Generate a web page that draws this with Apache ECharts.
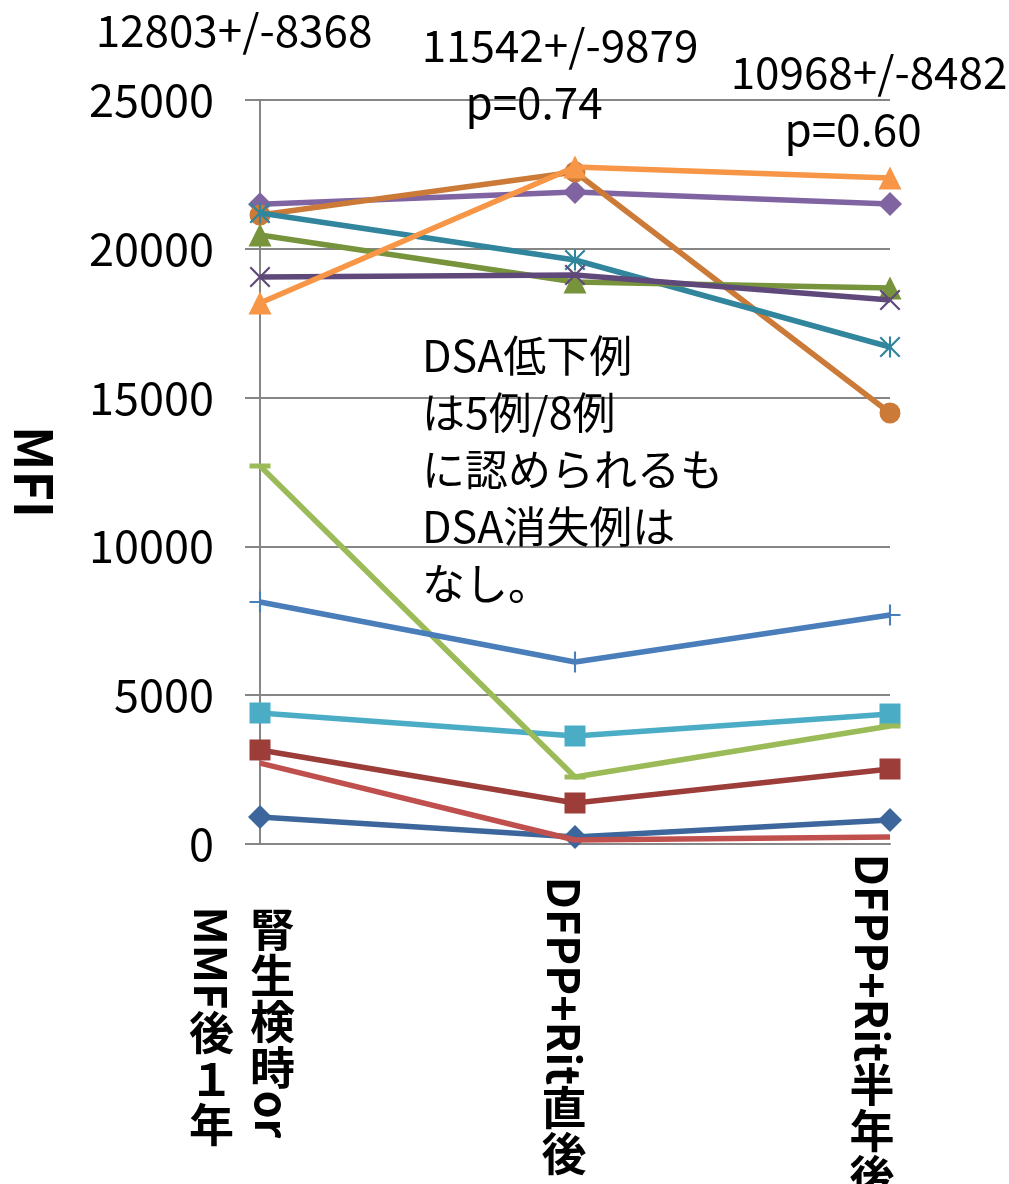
<!DOCTYPE html>
<html><head><meta charset="utf-8">
<script src="https://cdn.jsdelivr.net/npm/echarts@6/dist/echarts.min.js"></script>
<style>html,body{margin:0;padding:0;background:#fff}#c{width:1009px;height:1184px}</style>
</head><body><div id="c"></div>
<script>
// ---- data ----
const categories = ['腎生検時or\nMMF後１年', 'DFPP+Rit直後', 'DFPP+Rit半年後'];
const yTicks = [0, 5000, 10000, 15000, 20000, 25000];
const yName = 'MFI';
const s1 = [907, 235, 806];
const s2 = [3159, 1378, 2520];
const s3 = [2720, 134, 235];
const s4 = [4402, 3629, 4368];
const s5 = [12702, 2251, 3965];
const s6 = [8132, 6116, 7695];
const s7 = [21500, 21909, 21505];
const s8 = [21135, 22580, 14483];
const s9 = [21200, 19624, 16700];
const s10 = [20464, 18884, 18683];
const s11 = [19052, 19120, 18280];
const s12 = [18179, 22750, 22380];
const statMeans = ['12803+/-8368', '11542+/-9879', '10968+/-8482'];
const statP = ['', 'p=0.74', 'p=0.60'];
const noteText = 'DSA低下例\nは5例/8例\nに認められるも\nDSA消失例は\nなし。';

// ---- styles ----
const FONT = '"Noto Sans CJK JP", "Noto Sans", sans-serif';
const GRAY = '#868686';
const P_X = 'path://M1.5,0L10,8.5L18.5,0L20,1.5L11.5,10L20,18.5L18.5,20L10,11.5L1.5,20L0,18.5L8.5,10L0,1.5Z';
const P_STAR = 'path://M1.5,0L10,8.5L18.5,0L20,1.5L11.5,10L20,18.5L18.5,20L10,11.5L1.5,20L0,18.5L8.5,10L0,1.5Z M9,0L11,0L11,20L9,20Z';
const P_PLUS = 'path://M9,0L11,0L11,9L20,9L20,11L11,11L11,20L9,20L9,11L0,11L0,9L9,9Z';

const seriesDefs = [
  {data: s1, color: '#3D679C', symbol: 'diamond', size: 24},
  {data: s2, color: '#9C3D3A', symbol: 'rect', size: 21},
  {data: s3, color: '#C0504D', symbol: 'none', size: 0},
  {data: s4, color: '#4BACC6', symbol: 'rect', size: 21},
  {data: s5, color: '#9BBB59', symbol: 'rect', size: [21, 5]},
  {data: s6, color: '#4A7EBB', symbol: P_PLUS, size: 21},
  {data: s7, color: '#8064A2', symbol: 'diamond', size: 24},
  {data: s8, color: '#CC7A38', symbol: 'circle', size: 21},
  {data: s9, color: '#31859C', symbol: P_STAR, size: 21},
  {data: s10, color: '#77933C', symbol: 'triangle', size: 23},
  {data: s11, color: '#5F497A', symbol: P_X, size: 21},
  {data: s12, color: '#F79646', symbol: 'triangle', size: 23}
];

const chart = echarts.init(document.getElementById('c'), null, {renderer: 'canvas'});
const option = {
  animation: false,
  backgroundColor: '#fff',
  grid: {left: 254, right: 119, top: 100, bottom: 340, containLabel: false},
  xAxis: {
    type: 'category', data: categories, boundaryGap: false,
    axisLine: {lineStyle: {color: GRAY, width: 2}},
    axisTick: {show: false}, axisLabel: {show: false}, splitLine: {show: false}
  },
  yAxis: {
    type: 'value', min: yTicks[0], max: yTicks[yTicks.length - 1], interval: yTicks[1] - yTicks[0],
    axisLine: {show: true, lineStyle: {color: GRAY, width: 2}},
    axisTick: {show: true, length: 15, lineStyle: {color: GRAY, width: 2}},
    axisLabel: {fontSize: 45, color: '#000', margin: 46, fontFamily: FONT, formatter: v => String(v)},
    splitLine: {lineStyle: {color: GRAY, width: 2}},
    name: yName, nameLocation: 'middle', nameRotate: -90, nameGap: 200,
    nameTextStyle: {fontSize: 52, fontWeight: 'bold', color: '#000', fontFamily: FONT}
  },
  series: seriesDefs.map((d, i) => ({
    type: 'line', name: 'S' + (i + 1), data: d.data,
    symbol: d.symbol, symbolSize: d.size, symbolKeepAspect: true, showSymbol: d.symbol !== 'none',
    lineStyle: {color: d.color, width: 5.5},
    itemStyle: {color: d.color, borderWidth: 0},
    z: 2 + i
  }))
};
chart.setOption(option);

// ---- vertical (tategaki) category labels & annotations ----
const ctx = document.createElement('canvas').getContext('2d');
const LFONT = 'bold 45px ' + FONT;
ctx.font = LFONT;
const PITCH = 46, COLGAP = 61, CENTER_Y = 1027;
const blockOffsets = [-18, -11, -18];
function isUpright(ch) { return ch.charCodeAt(0) > 0x2E80; }
function splitRuns(line) {
  const runs = []; let cur = '';
  for (const ch of line) {
    if (isUpright(ch)) { if (cur) { runs.push({t: cur, up: false}); cur = ''; } runs.push({t: ch, up: true}); }
    else cur += ch;
  }
  if (cur) runs.push({t: cur, up: false});
  return runs;
}
function colLen(runs) { return runs.reduce((s, r) => s + (r.up ? PITCH : ctx.measureText(r.t).width), 0); }

const graphics = [];
categories.forEach((cat, ci) => {
  const cx0 = chart.convertToPixel({xAxisIndex: 0}, cat) + blockOffsets[ci];
  const lines = cat.split('\n');
  const runsList = lines.map(splitRuns);
  const maxLen = Math.max(...runsList.map(colLen));
  const top = CENTER_Y - maxLen / 2;
  runsList.forEach((runs, li) => {
    const cx = cx0 + ((lines.length - 1) / 2 - li) * COLGAP;
    let y = top;
    runs.forEach(r => {
      if (r.up) {
        graphics.push({type: 'text', x: cx, y: y + PITCH / 2, style: {text: r.t, font: LFONT, fill: '#000', textAlign: 'center', textVerticalAlign: 'middle'}});
        y += PITCH;
      } else {
        graphics.push({type: 'text', x: cx, y: y, rotation: -Math.PI / 2, style: {text: r.t, font: LFONT, fill: '#000', textAlign: 'left', textVerticalAlign: 'middle'}});
        y += ctx.measureText(r.t).width;
      }
    });
  });
});

const AFONT = '44px ' + FONT;
const meanY = [30, 45, 72];
const meanDx = [-26, -15, -21];
const pDx = [0, -41, -37];
categories.forEach((cat, ci) => {
  const px = chart.convertToPixel({xAxisIndex: 0}, cat);
  graphics.push({type: 'text', x: px + meanDx[ci], y: meanY[ci], style: {text: statMeans[ci], font: AFONT, fill: '#000', textAlign: 'center', textVerticalAlign: 'middle'}});
  if (statP[ci]) graphics.push({type: 'text', x: px + pDx[ci], y: meanY[ci] + 57, style: {text: statP[ci], font: AFONT, fill: '#000', textAlign: 'center', textVerticalAlign: 'middle'}});
});
graphics.push({type: 'text', x: 422, y: 327, style: {text: noteText, font: '43px ' + FONT, fill: '#000', textAlign: 'left', textVerticalAlign: 'top', lineHeight: 57}});

chart.setOption({graphic: graphics});
</script>
</body></html>
